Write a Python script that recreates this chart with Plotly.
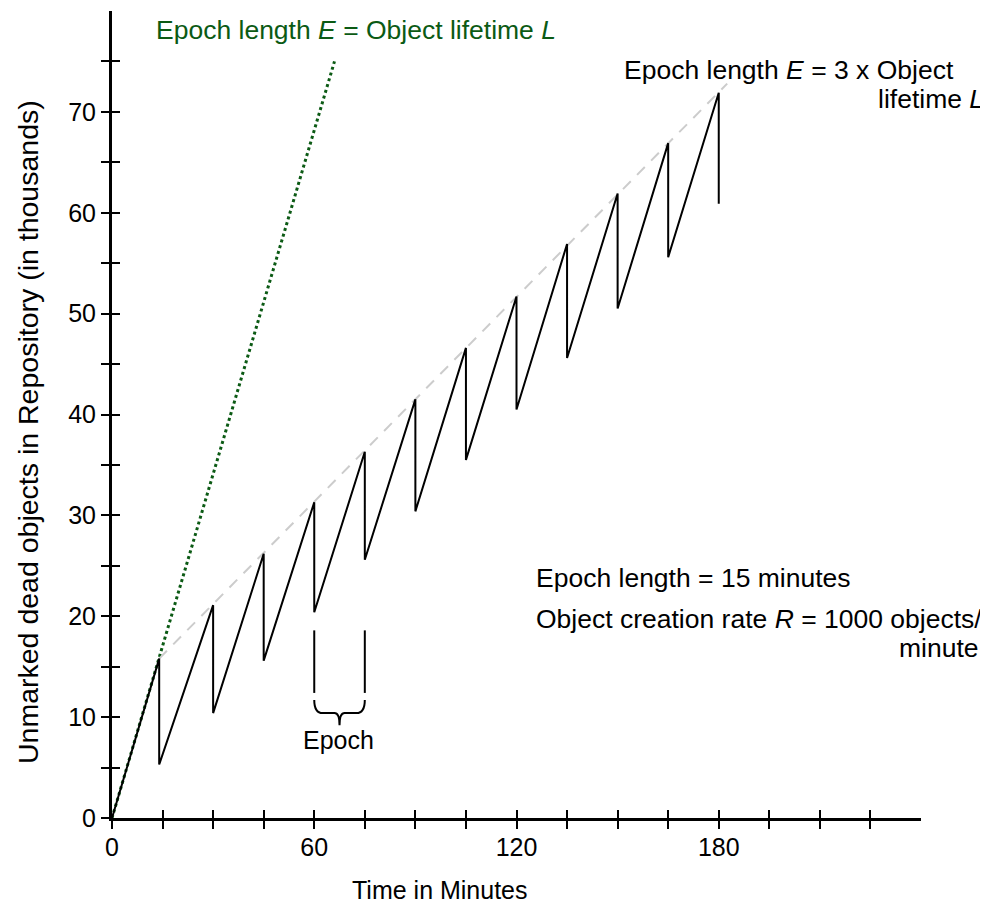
import plotly.graph_objects as go

# ---- data ----
epoch_ends = [14, 30, 45, 60, 75, 90, 105, 120, 135, 150, 165, 180]
peaks = [15.8, 21.1, 26.2, 31.3, 36.3, 41.5, 46.6, 51.7, 56.9, 61.9, 66.9, 71.9]
troughs = [5.3, 10.4, 15.6, 20.4, 25.6, 30.4, 35.5, 40.5, 45.6, 50.5, 55.6, 60.9]

green_x = [0, 66]          # E = L line
green_y = [0, 75]
dashed_x = [14, 182.5]     # E = 3L envelope
dashed_y = [15.8, 72.8]

epoch_marker_x = [60, 75]
epoch_marker_y = [12.4, 18.6]

x_tick_vals = [0, 15, 30, 45, 60, 75, 90, 105, 120, 135, 150, 165, 180, 195, 210, 225]
x_tick_text = ["0", "", "", "", "60", "", "", "", "120", "", "", "", "180", "", "", ""]
y_tick_vals = [0, 5, 10, 15, 20, 25, 30, 35, 40, 45, 50, 55, 60, 65, 70, 75]
y_tick_text = ["0", "", "10", "", "20", "", "30", "", "40", "", "50", "", "60", "", "70", ""]

# build sawtooth from the data
saw_x = [0]
saw_y = [0]
for t, p, tr in zip(epoch_ends, peaks, troughs):
    saw_x += [t, t]
    saw_y += [p, tr]

FONT = "Liberation Sans, Arial, sans-serif"
GREEN = "#0b5a14"

# plot area in page pixels: x 112..921, y 11..818 (page body has an 8px margin)
def px(x):
    return (x - 112) / 809.0

def py(y):
    return (818 - y) / 807.0

fig = go.Figure()
fig.add_trace(go.Scatter(x=green_x, y=green_y, mode="lines",
                         line=dict(color=GREEN, width=3, dash="3px,3px"),
                         hoverinfo="skip", showlegend=False))
fig.add_trace(go.Scatter(x=dashed_x, y=dashed_y, mode="lines",
                         line=dict(color="#cccccc", width=2, dash="11px,9px"),
                         hoverinfo="skip", showlegend=False))
fig.add_trace(go.Scatter(x=saw_x, y=saw_y, mode="lines",
                         line=dict(color="black", width=2),
                         hoverinfo="skip", showlegend=False))
for mx in epoch_marker_x:
    fig.add_trace(go.Scatter(x=[mx, mx], y=epoch_marker_y, mode="lines",
                             line=dict(color="black", width=2),
                             hoverinfo="skip", showlegend=False))
# invisible trace to activate overlay axes (inner half of crossing ticks)
fig.add_trace(go.Scatter(x=[None], y=[None], xaxis="x2", yaxis="y2",
                         hoverinfo="skip", showlegend=False))

# curly brace under the epoch markers
x0, x1 = epoch_marker_x
xm = (x0 + x1) / 2
yt, ym, yb = 11.7, 10.4, 9.2
brace = (f"M {x0},{yt} Q {x0},{ym} {x0+2.5},{ym} L {xm-1.5},{ym} "
         f"Q {xm},{ym} {xm},{yb} Q {xm},{ym} {xm+1.5},{ym} "
         f"L {x1-2.5},{ym} Q {x1},{ym} {x1},{yt}")
fig.add_shape(type="path", path=brace, xref="x", yref="y",
              line=dict(color="black", width=2))

def note(text, x, y, xanchor, size=26.5, color="black", angle=0):
    fig.add_annotation(x=px(x), y=py(y), xref="paper", yref="paper",
                       xanchor=xanchor, yanchor="middle", text=text,
                       textangle=angle, showarrow=False,
                       font=dict(family=FONT, size=size, color=color))

note("Epoch length <i>E</i> = Object lifetime <i>L</i>", 154, 30, "left", color=GREEN)
note("Epoch length <i>E</i> = 3 x Object", 622, 70, "left")
note("lifetime <i>L</i>", 986, 99, "right")
note("Epoch length = 15 minutes", 534, 578, "left")
note("Object creation rate <i>R</i> = 1000 objects/", 534, 619, "left")
note("minute", 981, 648, "right")
note("Epoch", 338, 740, "center", size=25)
note("Time in Minutes", 440, 890, "center", size=25)
note("Unmarked dead objects in Repository (in thousands)", 28, 432, "center", size=28.5, angle=-90)

axis_common = dict(showgrid=False, zeroline=False, linecolor="black",
                   tickcolor="black", tickwidth=2, ticklen=8,
                   tickfont=dict(family=FONT, size=25, color="black"))
fig.update_layout(
    width=980, height=902,
    margin=dict(l=104, r=67, t=3, b=92),
    paper_bgcolor="white", plot_bgcolor="white",
    font=dict(family=FONT, size=25, color="black"),
    xaxis=dict(range=[0, 240], showline=True, linewidth=3, ticks="outside",
               tickmode="array", tickvals=x_tick_vals, ticktext=x_tick_text,
               ticklabelstandoff=-3, fixedrange=True, **axis_common),
    yaxis=dict(range=[0, 80], showline=True, linewidth=3, ticks="outside",
               tickmode="array", tickvals=y_tick_vals, ticktext=y_tick_text,
               ticklabelstandoff=0, fixedrange=True, **axis_common),
    xaxis2=dict(range=[0, 240], overlaying="x", anchor="y", side="bottom",
                showline=False, ticks="inside", showticklabels=False,
                tickmode="array", tickvals=x_tick_vals, fixedrange=True, **axis_common),
    yaxis2=dict(range=[0, 80], overlaying="y", anchor="x", side="left",
                showline=False, ticks="inside", showticklabels=False,
                tickmode="array", tickvals=y_tick_vals, fixedrange=True, **axis_common),
)

fig.write_html("out.html")
